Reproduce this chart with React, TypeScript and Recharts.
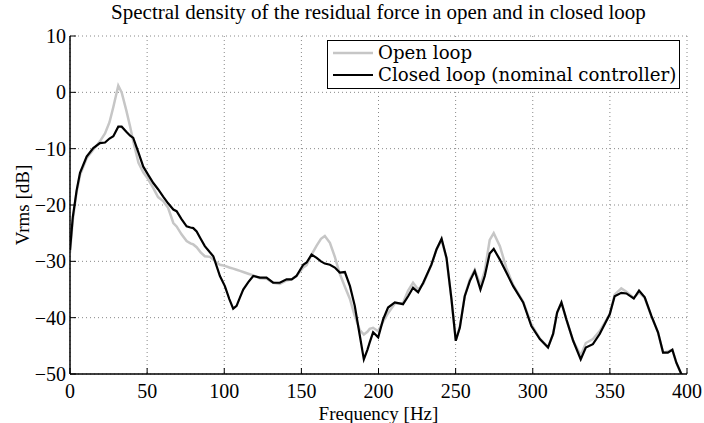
import React from 'react';
import { LineChart, Line, XAxis, YAxis, CartesianGrid, Legend, Label } from 'recharts';

const chartTitle = 'Spectral density of the residual force in open and in closed loop';
const xLabel = 'Frequency [Hz]';
const yLabel = 'Vrms [dB]';
const seriesNames = ['Open loop', 'Closed loop (nominal controller)'];
const xTicks = [0, 50, 100, 150, 200, 250, 300, 350, 400];
const yTicks = [-50, -40, -30, -20, -10, 0, 10];

const freq = [0, 1.8, 4.3, 6.5, 10.8, 15.1, 19.4, 22.7, 25.6, 28.1, 31.3, 33.5, 36.5, 39, 41, 44.4, 47.5, 50.6, 54, 57.1, 60.4, 63.6, 67, 69.1, 72.3, 75.6, 78.1, 79.9, 82.1, 84.7, 87.4, 90.7, 92.9, 95.1, 97.2, 100.4, 103.3, 105.8, 108, 110.2, 112.3, 115.6, 118.8, 123.1, 127.4, 131.7, 136, 140.4, 143.7, 146.8, 151.2, 153.4, 156.6, 159.9, 162.7, 165.2, 168.5, 171.7, 174.9, 178.2, 181.5, 184.6, 187.9, 190.5, 192.8, 194.3, 196.5, 199.8, 203, 206.2, 210.6, 215.9, 219.2, 222.4, 225.7, 229, 234.3, 237.6, 240.9, 244.1, 247.3, 250.1, 252.7, 255.9, 259.2, 262.4, 266.1, 268.9, 272.1, 274.7, 278.7, 282.9, 287.3, 293.8, 299.1, 304.6, 309.9, 313.2, 315.8, 318.6, 321.8, 326.2, 331.1, 334.4, 339, 343.4, 349.9, 353.1, 357.4, 360.7, 365.5, 368.9, 372.6, 376.9, 381.2, 384.5, 387.6, 390.5, 393.1, 396.3, 400];

const closedLoop = [-28, -22.2, -17.4, -14.3, -11.4, -9.9, -9, -8.9, -8.2, -7.8, -6.1, -6.1, -7, -7.7, -8.1, -10.7, -13.2, -14.6, -16.1, -17.2, -18.5, -19.7, -20.8, -21.1, -22.5, -23.8, -24, -24.1, -24.7, -26, -27.3, -28.4, -29.1, -30.9, -32.6, -34.4, -36.7, -38.4, -37.9, -36.4, -35, -33.7, -32.6, -32.9, -32.9, -33.8, -33.8, -33.2, -33.2, -32.6, -30.6, -30.2, -28.8, -29.4, -30, -30.4, -30.6, -31.1, -32, -31.9, -34.4, -37.9, -43.2, -47.4, -45.7, -44.4, -42.6, -43.5, -40.3, -38.2, -37.3, -37.6, -36.2, -34.7, -35.5, -33.8, -30.6, -27.9, -26, -29.4, -36.7, -44.1, -41.8, -36.2, -33.5, -31.7, -35, -32.6, -28.6, -27.8, -29.7, -32, -34.4, -37.3, -41.5, -43.8, -45.3, -42.9, -39.1, -37.3, -40.3, -44.1, -47.4, -45.3, -44.7, -42.9, -39.4, -36.2, -35.6, -35.7, -36.6, -35.2, -36.4, -39.7, -42.6, -46.2, -46.2, -45.7, -48, -50, -53];

const openLoop = [-28.5, -22.7, -17.7, -14.7, -11.7, -10.2, -8.7, -7.3, -5.3, -2.6, 1.2, 0, -3.2, -6.1, -8.7, -12.5, -14.2, -15.4, -17, -18.6, -19.3, -20.5, -23.2, -23.8, -25.2, -26.4, -26.8, -27, -27.5, -28.4, -29.1, -29.2, -29.7, -30.2, -30.6, -30.8, -31.1, -31.3, -31.5, -31.7, -31.9, -32.2, -32.5, -33, -33.1, -33.8, -34, -33.4, -33.2, -32.6, -31.1, -30.7, -28.8, -27.2, -26, -25.5, -26.7, -29.2, -32.2, -34.5, -36.7, -39.7, -42.2, -43, -42.5, -42, -41.8, -42.4, -40.7, -39.2, -37.5, -37.4, -35.2, -33.8, -35, -34, -30.6, -27.9, -26.2, -29.5, -36.7, -44, -41.7, -36.2, -33.2, -31.5, -34.2, -31.7, -26.2, -25, -27.3, -31.2, -34.2, -37.2, -41.2, -43.7, -45.2, -42.9, -39.1, -37.3, -40.3, -44.1, -46.7, -44.5, -43.8, -42.4, -39.4, -35.9, -34.8, -35.4, -36.5, -35.5, -36.5, -39.7, -42.6, -46.2, -46, -45.7, -48, -50, -53];

const data = freq.map((f, i) => ({ f, open: openLoop[i], closed: closedLoop[i] }));

const SERIF = '"Liberation Serif", "Times New Roman", serif';
const LEGEND_FONT = '"DejaVu Serif", serif';
const FS = 20;
const TL = 6;

const fmt = (v: number) => (v < 0 ? '\u2212' + Math.abs(v) : String(v));

const BottomTick = (props: any) => {
  const { x, y, payload } = props;
  return (
    <g>
      <line x1={x} x2={x} y1={y} y2={y - TL} stroke="#000" strokeWidth={1} />
      <text x={x} y={y + 24} textAnchor="middle" fontFamily={SERIF} fontSize={FS} fill="#000">
        {fmt(payload.value)}
      </text>
    </g>
  );
};

const TopTick = (props: any) => {
  const { x, y } = props;
  return <line x1={x} x2={x} y1={y} y2={y + TL} stroke="#000" strokeWidth={1} />;
};

const LeftTick = (props: any) => {
  const { x, y, payload } = props;
  return (
    <g>
      <line x1={x} x2={x + TL} y1={y} y2={y} stroke="#000" strokeWidth={1} />
      <text x={x - 4} y={y + 7} textAnchor="end" fontFamily={SERIF} fontSize={FS} fill="#000">
        {fmt(payload.value)}
      </text>
    </g>
  );
};

const RightTick = (props: any) => {
  const { x, y } = props;
  return <line x1={x} x2={x - TL} y1={y} y2={y} stroke="#000" strokeWidth={1} />;
};

const LegendBox = () => (
  <div
    style={{
      border: '1px solid #000',
      background: '#fff',
      padding: '1px 3px 2px 5px',
      fontFamily: LEGEND_FONT,
      fontSize: 18.2,
      lineHeight: '22px',
      color: '#000',
      whiteSpace: 'nowrap',
    }}
  >
    {seriesNames.map((name, i) => (
      <div key={name} style={{ display: 'flex', alignItems: 'center' }}>
        <svg width={40} height={22} style={{ display: 'block', marginRight: 5 }}>
          <line x1={0} x2={40} y1={11} y2={11} stroke={i === 0 ? '#c6c6c6' : '#000'} strokeWidth={i === 0 ? 2.5 : 2.2} />
        </svg>
        <span>{name}</span>
      </div>
    ))}
  </div>
);

export default function App() {
  return (
    <div style={{ position: 'absolute', left: 0, top: 0, width: 704, height: 423, background: '#fff' }}>
      <div
        style={{
          position: 'absolute',
          left: 70,
          top: 0,
          width: 617,
          textAlign: 'center',
          fontFamily: SERIF,
          fontSize: 21,
          lineHeight: '24px',
          color: '#000',
          whiteSpace: 'nowrap',
        }}
      >
        {chartTitle}
      </div>
      <LineChart width={704} height={423} data={data} margin={{ top: 36, right: 17, bottom: 0, left: 0 }}>
        <CartesianGrid stroke="#888" strokeDasharray="1 3" strokeWidth={1} />
        <XAxis
          dataKey="f"
          type="number"
          domain={[0, 400]}
          ticks={xTicks}
          interval={0}
          allowDataOverflow
          height={49}
          tickSize={0}
          tickMargin={0}
          tickLine={false}
          tick={<BottomTick />}
          axisLine={{ stroke: '#000', strokeWidth: 1.5 }}
        >
          <Label value={xLabel} position="insideBottom" offset={3} style={{ fontFamily: SERIF, fontSize: 19, fill: '#000' }} />
        </XAxis>
        <XAxis
          xAxisId="top"
          orientation="top"
          dataKey="f"
          type="number"
          domain={[0, 400]}
          ticks={xTicks}
          interval={0}
          allowDataOverflow
          height={0}
          tickSize={0}
          tickMargin={0}
          tickLine={false}
          tick={<TopTick />}
          axisLine={{ stroke: '#000', strokeWidth: 1.5 }}
        />
        <YAxis
          type="number"
          domain={[-50, 10]}
          ticks={yTicks}
          interval={0}
          allowDataOverflow
          width={70}
          tickSize={0}
          tickMargin={0}
          tickLine={false}
          tick={<LeftTick />}
          axisLine={{ stroke: '#000', strokeWidth: 1.5 }}
        >
          <Label
            value={yLabel}
            angle={-90}
            position="insideLeft"
            offset={22}
            style={{ fontFamily: SERIF, fontSize: 19, fill: '#000', textAnchor: 'middle' }}
          />
        </YAxis>
        <YAxis
          yAxisId="right"
          orientation="right"
          type="number"
          domain={[-50, 10]}
          ticks={yTicks}
          interval={0}
          allowDataOverflow
          width={0}
          tickSize={0}
          tickMargin={0}
          tickLine={false}
          tick={<RightTick />}
          axisLine={{ stroke: '#000', strokeWidth: 1.5 }}
        />
        <Line
          xAxisId="top"
          yAxisId="right"
          dataKey="closed"
          stroke="none"
          dot={false}
          activeDot={false}
          legendType="none"
          isAnimationActive={false}
        />
        <Line
          dataKey="open"
          name={seriesNames[0]}
          type="linear"
          stroke="#c6c6c6"
          strokeWidth={2.5}
          dot={false}
          activeDot={false}
          isAnimationActive={false}
        />
        <Line
          dataKey="closed"
          name={seriesNames[1]}
          type="linear"
          stroke="#000"
          strokeWidth={2.2}
          dot={false}
          activeDot={false}
          isAnimationActive={false}
        />
        <Legend
          layout="horizontal"
          align="center"
          verticalAlign="middle"
          content={<LegendBox />}
          wrapperStyle={{ position: 'absolute', left: 327, top: 40, width: 'auto', height: 'auto' }}
        />
      </LineChart>
    </div>
  );
}
